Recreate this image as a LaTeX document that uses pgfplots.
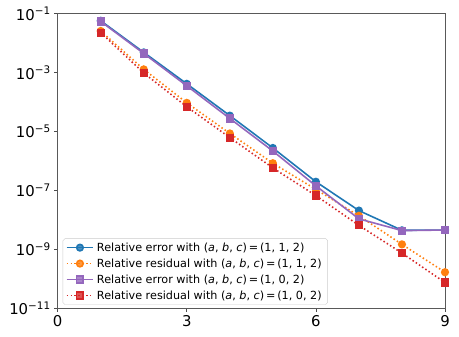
\documentclass[border=0pt]{standalone}
\usepackage{fontspec}
\setmainfont{DejaVu Sans}
\usepackage{pgfplots}
\pgfplotsset{compat=1.18}
\definecolor{tabblue}{HTML}{1F77B4}
\definecolor{taborange}{HTML}{FF7F0E}
\definecolor{tabpurple}{HTML}{9467BD}
\definecolor{tabred}{HTML}{D62728}
\newcommand{\abc}{(\textit{a}, \textit{b}, \textit{c})\,=\,}
\pgfplotsset{
  err/.style={line width=1.6pt, mark options={solid}},
  res/.style={line width=1.6pt, dash pattern=on 1.5pt off 2.4pt, mark options={solid}},
}
\begin{document}
\begin{tikzpicture}
\begin{axis}[
  scale only axis,
  width=389bp,
  height=296bp,
  ymode=log,
  xmin=0, xmax=9,
  ymin=1e-11, ymax=1e-1,
  xtick={0,3,6,9},
  ytick={1e-11,1e-9,1e-7,1e-5,1e-3,1e-1},
  yticklabels={10\textsuperscript{−11},10\textsuperscript{−9},10\textsuperscript{−7},10\textsuperscript{−5},10\textsuperscript{−3},10\textsuperscript{−1}},
  minor ytick={},
  /pgf/number format/assume math mode=true,
  ticklabel style={font=\fontsize{15}{17}\selectfont},
  tick align=outside,
  major tick length=3.5bp,
  tick style={black!70, line width=0.6pt},
  axis line style={black!65, line width=0.8pt},
  xtick pos=left, ytick pos=left,
  legend image code/.code={
    \draw[mark repeat=2, mark phase=2, #1]
      plot coordinates {(0cm,0cm) (0.47cm,0cm) (0.94cm,0cm)};
  },
  legend style={
    font=\fontsize{11.3}{13}\selectfont,
    at={(0.013,0.013)}, anchor=south west,
    draw=black!20, fill=white, fill opacity=0.8, text opacity=1,
    rounded corners=2pt, row sep=5pt,
    inner xsep=3pt, inner ysep=3.5pt,
    nodes={inner xsep=3pt, inner ysep=0.5pt}
  },
  legend cell align=left,
]
\addplot[tabblue, err, mark=*, mark size=3.3pt] coordinates {
  (1,5.8e-2) (2,4.9e-3) (3,4.2e-4) (4,3.5e-5) (5,2.8e-6)
  (6,2.0e-7) (7,2.1e-8) (8,4.5e-9) (9,4.6e-9)
};
\addplot[taborange, res, mark=*, mark size=3.3pt] coordinates {
  (1,2.6e-2) (2,1.3e-3) (3,9.5e-5) (4,8.7e-6) (5,8.5e-7)
  (6,1.1e-7) (7,1.4e-8) (8,1.5e-9) (9,1.7e-10)
};
\addplot[tabpurple, err, mark=square*, mark size=3.3pt] coordinates {
  (1,5.5e-2) (2,4.5e-3) (3,3.6e-4) (4,2.8e-5) (5,2.2e-6)
  (6,1.45e-7) (7,1.1e-8) (8,4.4e-9) (9,4.6e-9)
};
\addplot[tabred, res, mark=square*, mark size=3.3pt] coordinates {
  (1,2.3e-2) (2,9.8e-4) (3,7.0e-5) (4,6.3e-6) (5,5.9e-7)
  (6,6.8e-8) (7,6.6e-9) (8,7.6e-10) (9,7.6e-11)
};
\legend{{Relative error with \abc(1, 1, 2)},
        {Relative residual with \abc(1, 1, 2)},
        {Relative error with \abc(1, 0, 2)},
        {Relative residual with \abc(1, 0, 2)}}
\end{axis}
\path (current bounding box.south west) ++(-6bp,-6bp)
      (current bounding box.north east) ++(6bp,4bp);
\end{tikzpicture}
\end{document}
